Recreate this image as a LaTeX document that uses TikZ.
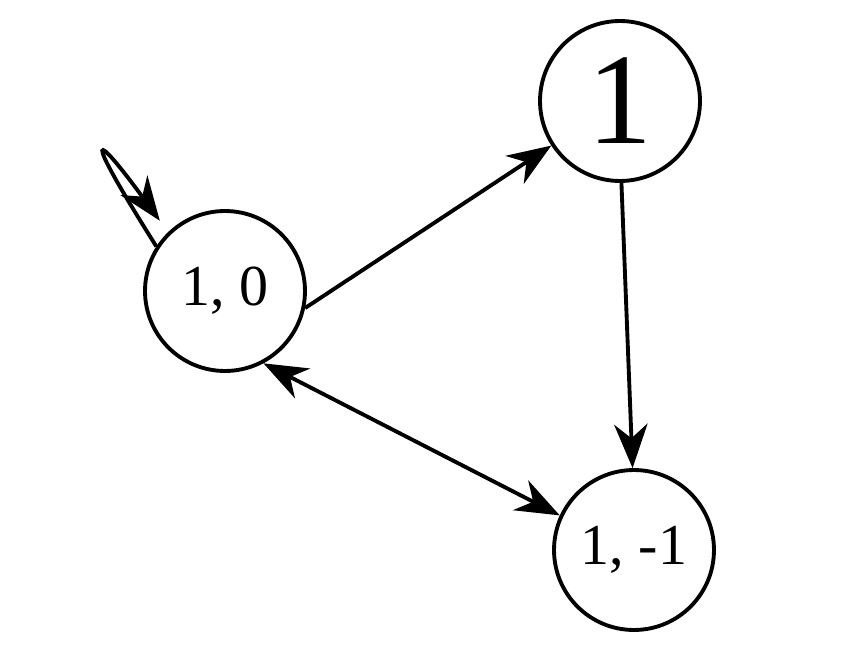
\documentclass[tikz,border=0pt]{standalone}
\usepackage{fontspec}
\setmainfont{Liberation Serif}
\usetikzlibrary{arrows.meta}

\begin{document}
\begin{tikzpicture}[
  x=0.02cm, y=-0.02cm,
  state/.style={draw, circle, line width=2.2pt, minimum size=3.2cm,
                inner sep=0pt, font=\fontsize{33}{36}\selectfont},
  tip/.tip={Stealth[length=25pt, width=19pt, inset=8pt]},
  arr/.style={-tip, line width=2.2pt},
  dblarr/.style={tip-tip, line width=2.2pt},
]
\useasboundingbox (0,0) rectangle (852,666);

%% --- Nodes ---
\node[state] (zero) at (225,291) {1, 0};
\node[state, font=\fontsize{74}{80}\selectfont] (one) at (620,101) {1};
\node[state] (minus) at (634,550) {1, -1};

%% --- Arrows ---
\draw[arr] (zero.-12) -- (one.213);
\draw[arr] (one.271) -- (minus.91);
\draw[dblarr] (zero.-62) -- (minus.155);

%% --- Self loop ---
\draw[arr, shorten >=8pt] (zero.147) .. controls (78,122) and (95,132) .. (zero.134);

\end{tikzpicture}
\end{document}
